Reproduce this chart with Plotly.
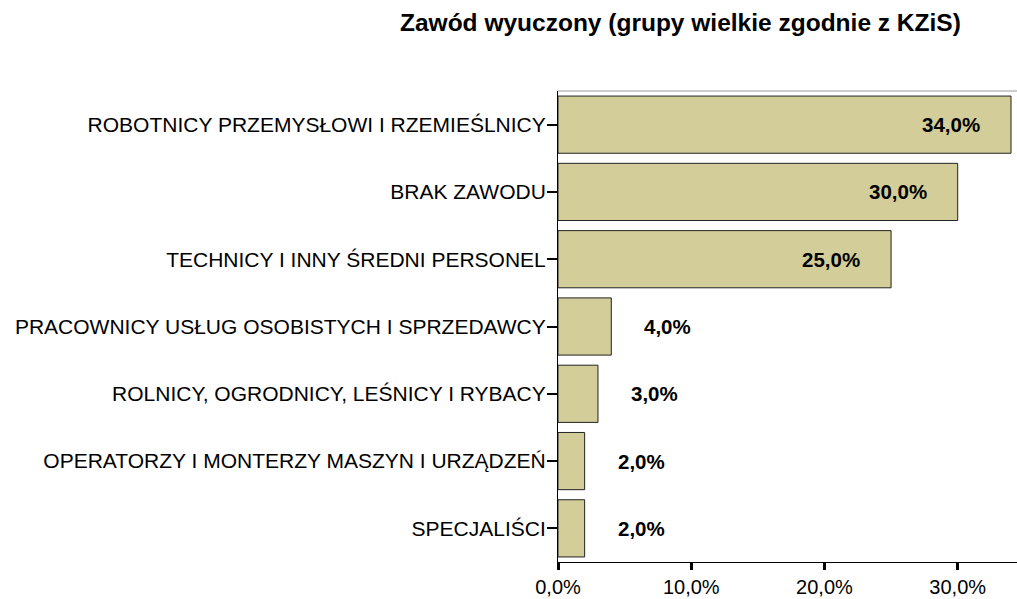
import plotly.graph_objects as go

categories = [
    "ROBOTNICY PRZEMYSŁOWI I RZEMIEŚLNICY",
    "BRAK ZAWODU",
    "TECHNICY I INNY ŚREDNI PERSONEL",
    "PRACOWNICY USŁUG OSOBISTYCH I SPRZEDAWCY",
    "ROLNICY, OGRODNICY, LEŚNICY I RYBACY",
    "OPERATORZY I MONTERZY MASZYN I URZĄDZEŃ",
    "SPECJALIŚCI",
]
values = [34.0, 30.0, 25.0, 4.0, 3.0, 2.0, 2.0]
tick_vals = [0, 10, 20, 30]
tick_text = ["0,0%", "10,0%", "20,0%", "30,0%"]
title = "Zawód wyuczony (grupy wielkie zgodnie z KZiS)"

FONT = "Liberation Sans, Arial"

fig = go.Figure(go.Bar(
    x=values, y=categories, orientation="h",
    marker=dict(color="#D3CE99", line=dict(color="#222222", width=1)),
    width=0.85, hoverinfo="skip",
))

for c, v in zip(categories, values):
    lbl = f"{v:.1f}%".replace(".", ",")
    inside = v > 10
    fig.add_annotation(
        x=v, y=c, text=f"<b>{lbl}</b>", showarrow=False,
        xanchor="right" if inside else "left",
        xshift=-29 if inside else 31,
        font=dict(family=FONT, size=20.5, color="#000000"),
    )

fig.add_annotation(
    xref="paper", yref="paper", x=(680 - 558) / (1017 - 558), y=1,
    yanchor="middle", yshift=69, text=f"<b>{title}</b>", showarrow=False,
    xanchor="center",
    font=dict(family=FONT, size=24.5, color="#000000"),
)

fig.add_shape(type="line", xref="paper", yref="paper", x0=0, x1=1, y0=1, y1=1,
              line=dict(color="#999999", width=1))

fig.update_layout(
    width=1017, height=599,
    margin=dict(l=558, r=0, t=91, b=37),
    paper_bgcolor="white", plot_bgcolor="white",
    showlegend=False,
    font=dict(family=FONT, size=20, color="#000000"),
    xaxis=dict(range=[0, 34.45], tickvals=tick_vals, ticktext=tick_text,
               showgrid=False, zeroline=False, showline=True, linecolor="#000000",
               linewidth=1, ticks="outside", ticklen=7, tickwidth=3,
               tickcolor="#000000", tickfont=dict(size=20)),
    yaxis=dict(autorange=False, range=[6.5, -0.5], showgrid=False,
               zeroline=False, showline=True, linecolor="#000000", linewidth=1,
               ticks="outside", ticklen=10, tickwidth=2, tickcolor="#000000",
               tickfont=dict(size=21), ticklabelstandoff=-3),
)

fig.write_html("out.html", config={"displayModeBar": False},
               post_script="document.body.style.margin='0';document.body.style.overflow='hidden';")
